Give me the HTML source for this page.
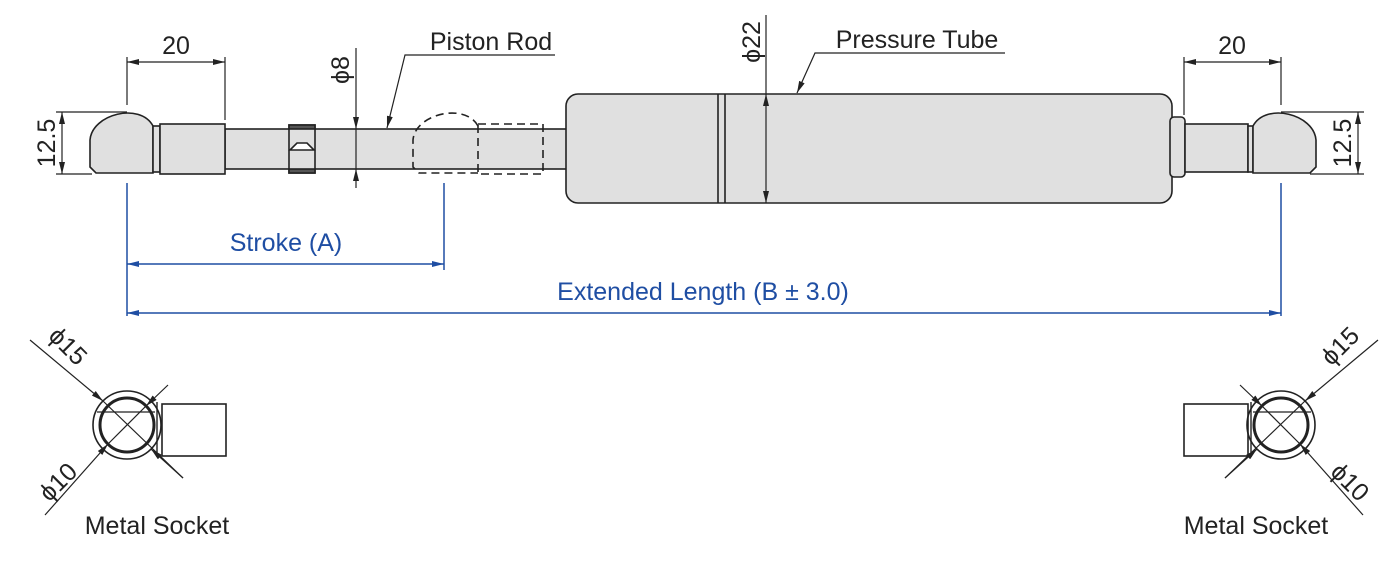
<!DOCTYPE html>
<html><head><meta charset="utf-8"><style>
html,body{margin:0;padding:0;background:#fff;}
svg{display:block;}
text{font-family:"Liberation Sans",sans-serif;}
</style></head><body>
<svg width="1400" height="579" viewBox="0 0 1400 579" xmlns="http://www.w3.org/2000/svg">
<defs>
<marker id="a" viewBox="0 0 12 6" refX="12" refY="3" markerWidth="12" markerHeight="6" orient="auto-start-reverse" markerUnits="userSpaceOnUse"><path d="M0,0 L12,3 L0,6 z" fill="#222"/></marker>
<marker id="b" viewBox="0 0 12 6" refX="12" refY="3" markerWidth="12" markerHeight="6" orient="auto-start-reverse" markerUnits="userSpaceOnUse"><path d="M0,0 L12,3 L0,6 z" fill="#1f4ea3"/></marker>
</defs>
<g stroke="#222" stroke-width="1.6" fill="#e0e0e0">
<rect x="225" y="129" width="343" height="40"/>
<rect x="289" y="125" width="26" height="48" fill="#e0e0e0"/>
<rect x="289" y="125" width="26" height="4" fill="#555"/>
<rect x="289" y="169" width="26" height="4" fill="#555"/>
<path d="M290,150 L297,143 L307,143 L314,150 Z" fill="#fff"/>
<path d="M90,167 L90,140 C92,114 140,102 153,126 L153,173 L96,173 Z"/>
<rect x="153" y="126" width="7" height="46"/>
<rect x="160" y="124" width="65" height="50"/>
<path d="M478,126 C465,102 415,114 413,140 L413,167 L419,173 L478,173" fill="none" stroke-dasharray="8,5"/>
<rect x="478" y="124" width="65" height="50" fill="none" stroke-dasharray="8,5"/>
<rect x="566" y="94" width="606" height="109" rx="12"/>
<line x1="718" y1="94" x2="718" y2="203"/>
<line x1="725" y1="94" x2="725" y2="203"/>
<rect x="1170" y="117" width="15" height="60" rx="4"/>
<rect x="1185" y="124" width="63" height="48"/>
<rect x="1248" y="126" width="5" height="46"/>
<path d="M1316,167 L1316,140 C1314,114 1266,102 1253,126 L1253,173 L1310,173 Z"/>
</g>
<g stroke="#222" stroke-width="1.2" fill="none">
<line x1="127" y1="57" x2="127" y2="105"/><line x1="225" y1="57" x2="225" y2="120"/>
<line x1="127" y1="62" x2="225" y2="62" marker-start="url(#a)" marker-end="url(#a)"/>
<line x1="56" y1="112" x2="127" y2="112"/><line x1="56" y1="174" x2="92" y2="174"/>
<line x1="62" y1="112" x2="62" y2="174" marker-start="url(#a)" marker-end="url(#a)"/>
<line x1="1184" y1="57" x2="1184" y2="115"/><line x1="1281" y1="57" x2="1281" y2="105"/>
<line x1="1184" y1="62" x2="1281" y2="62" marker-start="url(#a)" marker-end="url(#a)"/>
<line x1="1281" y1="112" x2="1364" y2="112"/><line x1="1310" y1="174" x2="1364" y2="174"/>
<line x1="1358" y1="112" x2="1358" y2="174" marker-start="url(#a)" marker-end="url(#a)"/>
<line x1="356" y1="48" x2="356" y2="129" marker-end="url(#a)"/>
<line x1="356" y1="129" x2="356" y2="169"/>
<line x1="356" y1="188" x2="356" y2="169" marker-end="url(#a)"/>
<polyline points="555,55 405,55 387,128" marker-end="url(#a)" fill="none"/>
<line x1="766" y1="15" x2="766" y2="94"/>
<line x1="766" y1="94" x2="766" y2="203" marker-start="url(#a)" marker-end="url(#a)"/>
<polyline points="1005,53 815,53 797,93" marker-end="url(#a)" fill="none"/>
</g>
<g fill="#222" font-size="25">
<text x="176" y="54" text-anchor="middle">20</text>
<text x="1232" y="54" text-anchor="middle">20</text>
<text x="491" y="50" text-anchor="middle">Piston Rod</text>
<text x="917" y="48" text-anchor="middle">Pressure Tube</text>
<text transform="translate(55,143) rotate(-90)" text-anchor="middle">12.5</text>
<text transform="translate(1351,143) rotate(-90)" text-anchor="middle">12.5</text>
<text transform="translate(349,70) rotate(-90)" text-anchor="middle">ϕ8</text>
<text transform="translate(760,42) rotate(-90)" text-anchor="middle">ϕ22</text>
</g>
<g stroke="#1f4ea3" stroke-width="1.5" fill="none">
<line x1="127" y1="183" x2="127" y2="316"/>
<line x1="444" y1="183" x2="444" y2="270"/>
<line x1="1281" y1="183" x2="1281" y2="316"/>
<line x1="127" y1="264" x2="444" y2="264" marker-start="url(#b)" marker-end="url(#b)"/>
<line x1="127" y1="313" x2="1281" y2="313" marker-start="url(#b)" marker-end="url(#b)"/>
</g>
<g fill="#1f4ea3" font-size="25">
<text x="286" y="251" text-anchor="middle">Stroke (A)</text>
<text x="703" y="300" text-anchor="middle">Extended Length (B ± 3.0)</text>
</g>
<g stroke="#222" fill="none">
<rect x="162" y="404" width="64" height="52" stroke-width="1.6"/>
<line x1="157" y1="402" x2="157" y2="457" stroke-width="1.4"/>
<circle cx="127" cy="425" r="34" stroke-width="1.6"/>
<circle cx="127" cy="425" r="27" stroke-width="3"/>
<line x1="97" y1="412" x2="155" y2="412" stroke-width="1.2"/>
<line x1="30" y1="340" x2="103" y2="401" stroke-width="1.2" marker-end="url(#a)"/>
<line x1="103" y1="401" x2="183" y2="478" stroke-width="1.2"/>
<line x1="183" y1="478" x2="151" y2="449" stroke-width="1.2" marker-end="url(#a)"/>
<line x1="168" y1="385" x2="146" y2="406" stroke-width="1.2" marker-end="url(#a)"/>
<line x1="146" y1="406" x2="108" y2="444" stroke-width="1.2"/>
<line x1="45" y1="515" x2="108" y2="444" stroke-width="1.2" marker-end="url(#a)"/>
</g>
<g stroke="#222" fill="none">
<rect x="1184" y="404" width="64" height="52" stroke-width="1.6"/>
<line x1="1251" y1="402" x2="1251" y2="457" stroke-width="1.4"/>
<circle cx="1281" cy="425" r="34" stroke-width="1.6"/>
<circle cx="1281" cy="425" r="27" stroke-width="3"/>
<line x1="1253" y1="412" x2="1311" y2="412" stroke-width="1.2"/>
<line x1="1378" y1="340" x2="1305" y2="401" stroke-width="1.2" marker-end="url(#a)"/>
<line x1="1305" y1="401" x2="1225" y2="478" stroke-width="1.2"/>
<line x1="1225" y1="478" x2="1257" y2="449" stroke-width="1.2" marker-end="url(#a)"/>
<line x1="1240" y1="385" x2="1262" y2="406" stroke-width="1.2" marker-end="url(#a)"/>
<line x1="1262" y1="406" x2="1300" y2="444" stroke-width="1.2"/>
<line x1="1363" y1="515" x2="1300" y2="444" stroke-width="1.2" marker-end="url(#a)"/>
</g>
<g fill="#222" font-size="25">
<text transform="translate(62,352) rotate(45)" text-anchor="middle">ϕ15</text>
<text transform="translate(64,488) rotate(-45)" text-anchor="middle">ϕ10</text>
<text transform="translate(1346,352) rotate(-45)" text-anchor="middle">ϕ15</text>
<text transform="translate(1344,488) rotate(45)" text-anchor="middle">ϕ10</text>
<text x="157" y="534" text-anchor="middle">Metal Socket</text>
<text x="1256" y="534" text-anchor="middle">Metal Socket</text>
</g>
</svg>
</body></html>
